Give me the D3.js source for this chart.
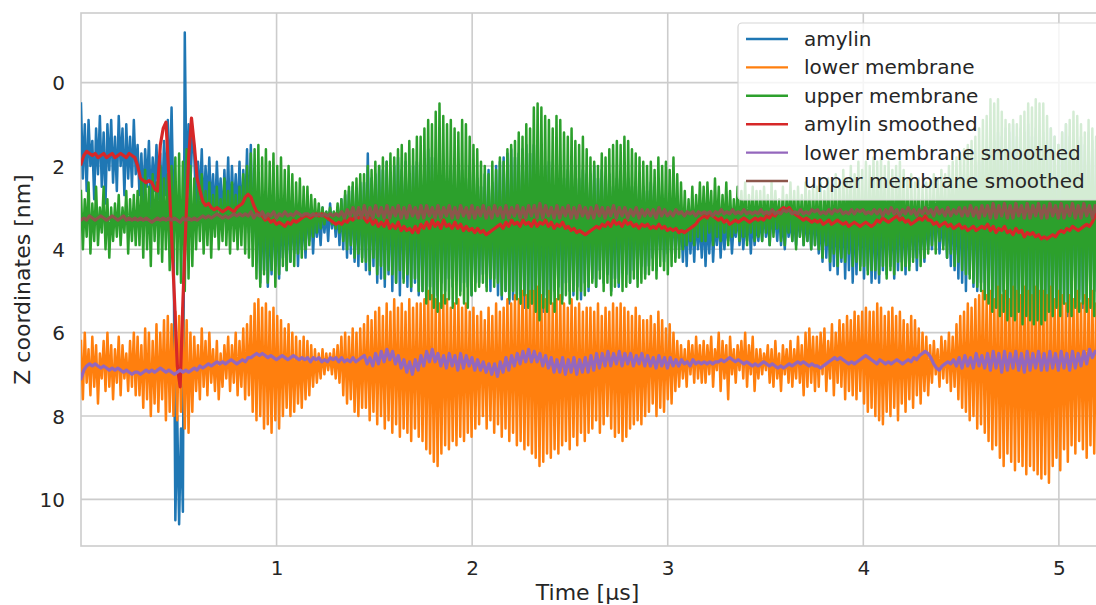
<!DOCTYPE html>
<html>
<head>
<meta charset="utf-8">
<script src="https://cdn.jsdelivr.net/npm/d3@7"></script>
<style>
  body { margin: 0; background: #fff; }
  svg { display: block; font-family: 'DejaVu Sans', sans-serif; }
</style>
</head>
<body>
<div id="chart-area"></div>
<script>
// chart data (z in nm, time in µs)
const seriesNames = ['amylin', 'lower membrane', 'upper membrane',
    'amylin smoothed', 'lower membrane smoothed', 'upper membrane smoothed'];
const seriesColors = ['#1f77b4', '#ff7f0e', '#2ca02c', '#d62728', '#9467bd', '#8c564b'];
const timeRange = [0, 5.2];
const xTicks = [1, 2, 3, 4, 5];
const yTicks = [0, 2, 4, 6, 8, 10];

// raw traces: evenly spaced samples over the time range
const amylin = [
    0.5, 2.3, 1.0, 2.6, 0.9, 2.0, 1.4, 2.8, 1.1, 2.2, 0.8, 2.5, 1.2, 2.9, 1.0, 2.1, 0.9, 2.4, 1.3, 2.6, 0.8, 2.0, 1.1, 2.7, 1.0, 2.3, 1.3, 2.5, 0.9, 2.2,
    1.5, 2.7, 1.7, 2.9, 1.6, 2.5, 1.4, 3.0, 1.8, 2.6, 1.5, 2.8, 1.7, 3.0, 1.4, 2.7, 0.9, 2.6, 0.6, 3.0, 10.5, 8.0, 10.6, 8.3, 10.3, -1.2, 2.9, 1.0, 2.4, 1.3,
    1.7, 3.0, 1.9, 2.8, 1.6, 3.2, 2.0, 2.9, 1.8, 3.1, 2.2, 3.3, 1.9, 3.0, 2.3, 3.4, 2.1, 3.2, 1.8, 3.5, 2.0, 3.1, 2.2, 3.3, 1.9, 3.4, 2.1, 3.2, 1.6, 3.6,
    1.5, 3.8, 2.2, 4.3, 2.6, 4.8, 2.9, 4.5, 2.7, 4.9, 3.0, 4.6, 2.8, 4.4, 3.1, 4.7, 2.9, 4.2, 3.0, 4.5, 2.8, 4.3, 3.1, 4.1, 2.9, 4.4, 3.0, 4.0, 3.2, 4.2,
    2.9, 3.8, 3.0, 4.1, 3.1, 3.7, 3.2, 3.9, 3.0, 3.6, 3.1, 3.8, 2.9, 3.5, 3.1, 3.7, 3.0, 3.9, 2.8, 4.0, 2.7, 4.2, 2.6, 4.1, 2.5, 4.3, 2.6, 4.4, 2.4, 4.2,
    2.4, 4.5, 1.7, 4.6, 2.3, 4.4, 2.2, 4.8, 2.0, 4.7, 2.1, 4.9, 1.9, 4.6, 2.2, 5.0, 2.0, 4.8, 1.8, 5.1, 2.1, 4.7, 1.9, 4.9, 2.2, 5.0, 2.0, 4.8, 1.9, 5.1,
    2.0, 5.0, 1.9, 5.2, 1.6, 4.9, 1.8, 5.3, 2.1, 5.1, 1.9, 4.8, 2.2, 5.0, 2.3, 4.7, 2.0, 4.9, 2.4, 4.6, 2.2, 5.0, 2.1, 4.8, 2.3, 4.9, 2.0, 5.1, 2.2, 4.8,
    2.3, 4.8, 2.5, 4.6, 2.2, 4.9, 2.1, 5.0, 2.4, 4.7, 2.0, 5.1, 1.9, 5.2, 1.8, 5.0, 1.7, 5.3, 1.6, 5.2, 1.8, 5.1, 1.7, 5.3, 1.6, 5.4, 1.5, 5.2, 1.7, 5.3,
    1.5, 5.4, 1.7, 5.2, 1.8, 5.5, 2.0, 5.1, 1.9, 5.3, 2.1, 5.0, 2.2, 4.9, 2.0, 5.2, 2.3, 4.8, 2.1, 5.0, 2.2, 5.1, 2.0, 4.9, 2.3, 5.2, 2.1, 4.8, 2.2, 5.0,
    2.2, 4.7, 2.0, 4.9, 2.3, 4.5, 2.1, 4.8, 2.4, 4.6, 2.2, 5.0, 2.5, 4.7, 2.3, 4.9, 2.6, 4.4, 2.4, 4.6, 2.3, 4.8, 2.5, 4.5, 2.4, 4.7, 2.6, 4.4, 2.5, 4.6,
    2.6, 4.4, 2.4, 4.2, 2.5, 4.5, 2.8, 4.0, 2.7, 4.3, 3.0, 4.1, 2.9, 3.9, 3.1, 4.2, 3.0, 4.0, 3.2, 4.3, 3.1, 4.4, 3.0, 4.1, 3.2, 4.3, 3.1, 4.0, 3.3, 4.2,
    3.1, 4.4, 3.2, 4.1, 3.0, 4.3, 3.3, 3.9, 3.1, 4.2, 3.2, 4.0, 3.4, 3.8, 3.2, 4.1, 3.3, 3.7, 3.1, 3.9, 3.2, 4.0, 3.3, 3.8, 3.1, 4.1, 3.2, 3.9, 3.3, 3.8,
    3.2, 3.8, 3.0, 3.7, 3.3, 3.9, 3.1, 3.6, 3.2, 3.8, 3.0, 3.9, 3.2, 4.0, 3.1, 3.7, 3.3, 3.8, 3.2, 3.9, 3.1, 3.7, 3.0, 3.9, 3.2, 3.8, 3.1, 4.0, 3.0, 3.9,
    3.0, 4.1, 3.2, 4.3, 2.9, 4.2, 3.1, 4.5, 3.0, 4.4, 2.8, 4.6, 3.0, 4.3, 2.9, 4.7, 2.7, 4.5, 2.8, 4.8, 2.9, 4.6, 2.7, 4.4, 2.8, 4.7, 2.6, 4.5, 2.7, 4.8,
    2.7, 4.7, 2.9, 4.8, 2.6, 4.5, 2.8, 4.6, 2.7, 4.4, 3.0, 4.7, 2.8, 4.5, 2.9, 4.3, 3.0, 4.6, 2.8, 4.4, 2.9, 4.2, 3.0, 4.5, 2.9, 4.1, 3.1, 4.3, 3.0, 4.0,
    3.0, 4.0, 3.1, 3.8, 2.9, 4.1, 3.2, 3.9, 3.0, 4.2, 2.8, 4.4, 2.7, 4.5, 2.6, 4.7, 2.4, 4.8, 2.2, 5.0, 2.3, 4.6, 2.1, 4.9, 2.0, 5.0, 1.9, 4.8, 1.8, 5.1,
    2.0, 5.1, 1.6, 5.3, 1.4, 5.2, 1.2, 5.4, 1.3, 5.0, 1.1, 5.3, 1.2, 5.5, 1.0, 5.2, 1.3, 5.4, 1.1, 5.3, 1.2, 5.5, 1.0, 5.4, 1.3, 5.2, 1.1, 5.6, 1.2, 5.3,
    1.2, 5.5, 1.4, 5.3, 1.1, 5.6, 1.3, 5.2, 1.5, 5.4, 1.2, 5.3, 1.0, 5.6, 1.3, 5.1, 1.6, 5.0, 1.4, 5.2, 1.3, 5.4, 1.5, 5.1, 1.2, 5.3, 1.4, 5.0, 1.6, 5.2
];

const lowerMembrane = [
    6.2, 7.6, 6.0, 7.2, 6.4, 7.5, 6.1, 7.3, 6.3, 7.7, 6.5, 7.1, 6.2, 7.4, 6.0, 7.3, 6.3, 7.6, 6.4, 7.2, 6.1, 7.5, 6.3, 7.1, 6.5, 7.4, 6.2, 7.3, 6.0, 7.5,
    6.1, 7.5, 6.3, 7.8, 5.9, 7.6, 6.0, 8.0, 6.2, 7.7, 5.8, 7.9, 6.0, 7.6, 5.7, 8.1, 5.6, 7.9, 5.8, 8.0, 5.5, 8.1, 5.6, 7.9, 5.4, 8.3, 5.7, 8.4, 6.0, 7.9,
    6.1, 7.4, 6.3, 7.6, 5.9, 7.3, 6.2, 7.5, 6.0, 7.2, 6.4, 7.4, 6.2, 7.6, 6.5, 7.3, 6.3, 7.1, 6.1, 7.4, 6.3, 7.2, 6.0, 7.5, 6.2, 7.3, 5.9, 7.6, 5.8, 7.5,
    5.6, 7.9, 5.3, 8.1, 5.2, 8.0, 5.4, 8.3, 5.3, 8.2, 5.5, 8.4, 5.4, 8.1, 5.6, 8.3, 5.7, 8.0, 5.9, 7.8, 5.8, 8.0, 6.0, 7.9, 6.1, 7.7, 6.2, 7.8, 6.1, 7.6,
    6.2, 7.5, 6.3, 7.3, 6.4, 7.2, 6.5, 7.1, 6.4, 7.0, 6.5, 6.9, 6.5, 7.0, 6.4, 7.1, 6.3, 7.2, 6.1, 7.5, 6.0, 7.7, 6.1, 7.6, 5.9, 7.9, 6.0, 8.0, 5.9, 7.8,
    5.8, 7.8, 5.6, 8.1, 5.7, 7.9, 5.5, 8.2, 5.4, 8.0, 5.6, 8.3, 5.3, 8.1, 5.5, 8.4, 5.2, 8.2, 5.4, 8.5, 5.3, 8.3, 5.5, 8.4, 5.2, 8.6, 5.4, 8.3, 5.3, 8.5,
    5.3, 8.6, 5.2, 8.8, 5.0, 8.9, 5.1, 9.1, 5.2, 9.2, 5.3, 8.9, 5.1, 8.7, 5.2, 8.8, 5.4, 8.6, 5.3, 8.7, 5.2, 8.5, 5.4, 8.6, 5.3, 8.4, 5.5, 8.5, 5.4, 8.3,
    5.6, 8.2, 5.5, 8.0, 5.7, 8.3, 5.4, 8.1, 5.6, 8.4, 5.3, 8.2, 5.5, 8.5, 5.4, 8.3, 5.2, 8.6, 5.3, 8.4, 5.1, 8.7, 5.2, 8.6, 5.0, 8.8, 5.1, 8.7, 5.0, 8.9,
    5.0, 9.0, 4.9, 9.2, 5.1, 9.1, 5.2, 8.9, 5.0, 9.0, 5.3, 8.8, 5.2, 8.9, 5.1, 8.7, 5.3, 8.6, 5.4, 8.8, 5.2, 8.5, 5.4, 8.7, 5.3, 8.4, 5.5, 8.6, 5.4, 8.4,
    5.4, 8.3, 5.5, 8.1, 5.3, 8.4, 5.6, 8.2, 5.4, 8.0, 5.5, 8.3, 5.3, 8.5, 5.4, 8.4, 5.3, 8.6, 5.4, 8.5, 5.5, 8.3, 5.6, 8.2, 5.4, 8.1, 5.6, 8.2, 5.7, 8.0,
    5.7, 7.9, 5.6, 7.7, 5.8, 8.0, 5.5, 7.8, 5.7, 7.9, 5.9, 7.6, 5.8, 7.7, 6.0, 7.4, 6.2, 7.3, 6.3, 7.1, 6.4, 7.3, 6.2, 7.0, 6.3, 7.2, 6.1, 7.1, 6.3, 7.2,
    6.2, 7.2, 6.3, 7.0, 6.1, 7.3, 6.4, 6.9, 6.0, 7.4, 6.2, 7.1, 6.3, 7.6, 6.1, 7.0, 6.4, 7.2, 6.3, 6.9, 6.2, 7.1, 6.0, 7.3, 6.3, 7.0, 6.1, 7.4, 6.4, 7.1,
    6.4, 7.0, 6.5, 6.9, 6.3, 7.2, 6.4, 7.3, 6.2, 7.1, 6.5, 7.4, 6.3, 7.0, 6.4, 7.2, 6.2, 7.3, 6.4, 7.1, 6.1, 7.2, 6.3, 7.5, 6.0, 7.3, 5.9, 7.2, 6.1, 7.4,
    6.1, 7.3, 6.0, 7.0, 5.9, 7.4, 6.2, 7.1, 5.8, 7.5, 6.0, 7.2, 5.7, 7.3, 5.8, 7.6, 5.6, 7.4, 5.7, 7.5, 5.5, 7.6, 5.6, 7.4, 5.5, 7.7, 5.4, 7.9, 5.5, 7.8,
    5.5, 8.0, 5.3, 8.1, 5.4, 8.2, 5.6, 7.9, 5.5, 8.0, 5.4, 7.8, 5.6, 8.1, 5.5, 7.7, 5.7, 7.9, 5.8, 7.6, 5.6, 7.8, 5.7, 7.5, 5.9, 7.7, 6.0, 7.4, 6.1, 7.5,
    6.3, 7.2, 6.2, 7.0, 6.4, 7.3, 6.1, 7.1, 6.2, 7.2, 6.0, 7.4, 6.1, 7.3, 5.8, 7.6, 5.6, 7.8, 5.5, 7.9, 5.3, 8.1, 5.4, 8.0, 5.2, 8.3, 5.1, 8.2, 5.0, 8.4,
    5.1, 8.6, 5.0, 8.8, 5.2, 8.7, 4.9, 9.0, 5.1, 9.2, 5.0, 8.9, 5.2, 9.1, 4.9, 9.3, 5.0, 9.1, 5.1, 9.2, 4.9, 9.4, 5.0, 9.2, 5.1, 9.3, 4.9, 9.4, 5.0, 9.5,
    5.0, 9.4, 5.1, 9.6, 4.9, 9.2, 5.2, 9.0, 5.0, 9.3, 5.1, 8.8, 5.3, 9.1, 5.1, 8.7, 5.2, 8.9, 5.0, 8.6, 5.3, 8.8, 5.1, 9.0, 5.2, 8.7, 5.0, 8.9, 5.3, 8.8
];

const upperMembrane = [
    2.6, 4.0, 2.8, 3.7, 2.4, 4.1, 2.9, 3.8, 2.5, 3.9, 3.0, 3.6, 2.5, 4.0, 2.8, 4.2, 3.0, 3.8, 2.9, 3.7, 2.7, 3.9, 3.0, 3.6, 2.6, 4.1, 2.8, 3.8, 2.7, 3.9,
    2.6, 3.9, 2.3, 4.2, 2.1, 4.0, 2.5, 4.4, 2.2, 3.8, 2.4, 4.1, 2.0, 4.3, 2.3, 4.0, 2.2, 4.5, 2.0, 4.3, 1.8, 4.6, 1.7, 4.8, 1.9, 5.0, 1.6, 4.7, 2.0, 4.4,
    2.3, 4.0, 2.5, 3.8, 2.2, 4.1, 2.6, 3.9, 2.4, 4.2, 2.7, 3.7, 2.5, 4.0, 2.8, 3.8, 2.3, 3.9, 2.6, 4.1, 2.4, 3.8, 2.7, 4.0, 2.5, 3.9, 2.2, 4.1, 2.0, 4.2,
    1.7, 4.4, 1.6, 4.7, 1.5, 4.9, 1.8, 4.6, 1.6, 4.8, 1.9, 4.5, 1.7, 4.9, 2.0, 4.6, 1.8, 4.4, 2.1, 4.5, 2.0, 4.3, 2.2, 4.4, 2.4, 4.1, 2.3, 4.2, 2.5, 4.0,
    2.5, 3.9, 2.7, 3.7, 2.8, 3.6, 2.9, 3.5, 3.0, 3.4, 3.1, 3.3, 3.0, 3.4, 3.1, 3.5, 2.9, 3.6, 2.8, 3.8, 2.6, 4.0, 2.5, 3.9, 2.4, 4.2, 2.3, 4.1, 2.2, 4.3,
    2.2, 4.3, 2.0, 4.5, 2.1, 4.2, 1.9, 4.6, 2.0, 4.4, 1.8, 4.7, 1.9, 4.5, 1.7, 4.6, 1.8, 4.8, 1.6, 4.5, 1.5, 4.8, 1.7, 4.6, 1.4, 4.9, 1.6, 4.7, 1.3, 5.0,
    1.3, 5.0, 1.1, 5.3, 0.9, 5.2, 1.0, 5.4, 0.7, 5.5, 0.5, 5.4, 0.8, 5.3, 1.0, 5.2, 0.9, 5.4, 1.1, 5.3, 1.2, 5.1, 0.9, 5.3, 1.0, 5.4, 1.3, 5.1, 1.5, 5.0,
    1.6, 4.9, 1.9, 4.8, 2.0, 5.0, 2.2, 4.7, 1.9, 4.9, 2.1, 4.8, 1.8, 5.1, 1.9, 5.0, 1.6, 5.2, 1.5, 5.0, 1.4, 5.2, 1.2, 5.3, 1.3, 5.1, 1.0, 5.4, 1.1, 5.3,
    0.6, 5.5, 0.5, 5.7, 0.6, 5.4, 0.8, 5.5, 0.9, 5.3, 1.1, 5.5, 0.8, 5.2, 0.9, 5.3, 1.2, 5.1, 1.3, 5.3, 1.1, 5.0, 1.4, 5.2, 1.5, 5.0, 1.3, 5.1, 1.6, 4.9,
    1.8, 4.8, 1.9, 4.9, 2.0, 4.7, 1.7, 5.0, 1.8, 4.8, 1.6, 5.1, 1.5, 4.9, 1.4, 4.8, 1.5, 5.0, 1.3, 4.9, 1.4, 4.8, 1.6, 4.7, 1.7, 4.9, 1.8, 4.8, 1.9, 4.7,
    2.0, 4.6, 1.9, 4.5, 2.1, 4.7, 1.8, 4.4, 2.0, 4.5, 1.9, 4.6, 2.1, 4.4, 1.8, 4.3, 2.2, 4.2, 2.4, 4.0, 2.6, 3.9, 2.8, 3.8, 2.5, 3.9, 2.7, 3.7, 2.4, 3.8,
    2.5, 3.8, 2.4, 3.6, 2.6, 3.9, 2.3, 3.7, 2.5, 3.8, 2.7, 3.6, 2.4, 3.9, 2.6, 3.7, 2.8, 3.6, 2.5, 3.8, 2.6, 3.7, 2.4, 3.9, 2.7, 3.6, 2.5, 3.8, 2.6, 3.7,
    2.6, 3.8, 2.5, 3.6, 2.7, 3.9, 2.4, 3.7, 2.6, 3.5, 2.8, 3.8, 2.5, 3.9, 2.7, 3.6, 2.4, 3.8, 2.6, 4.0, 2.5, 3.7, 2.7, 3.9, 2.4, 3.8, 2.6, 4.0, 2.5, 3.9,
    2.5, 4.0, 2.4, 4.2, 2.6, 3.9, 2.3, 4.3, 2.5, 4.1, 2.2, 4.4, 2.4, 4.2, 2.1, 4.3, 2.3, 4.1, 2.0, 4.4, 2.2, 4.3, 1.9, 4.5, 2.1, 4.4, 1.9, 4.6, 2.0, 4.5,
    1.8, 4.5, 1.9, 4.6, 1.8, 4.4, 2.0, 4.7, 1.9, 4.5, 2.1, 4.6, 2.0, 4.3, 1.9, 4.5, 2.1, 4.4, 2.3, 4.5, 2.2, 4.3, 2.4, 4.2, 2.3, 4.4, 2.5, 4.2, 2.4, 4.1,
    2.4, 3.9, 2.2, 4.1, 2.3, 3.8, 2.1, 4.0, 2.2, 4.2, 2.0, 4.1, 1.9, 4.4, 1.8, 4.3, 1.7, 4.5, 1.6, 4.6, 1.5, 4.7, 1.4, 4.8, 1.3, 4.9, 1.1, 5.0, 0.9, 5.2,
    0.8, 5.3, 0.4, 5.5, 0.5, 5.4, 0.4, 5.6, 0.7, 5.5, 0.9, 5.7, 1.0, 5.6, 0.9, 5.7, 1.0, 5.5, 0.8, 5.8, 0.7, 5.6, 0.5, 5.7, 0.6, 5.8, 0.4, 5.7, 0.5, 5.8,
    0.5, 5.7, 0.8, 5.5, 1.1, 5.6, 1.3, 5.4, 1.5, 5.6, 1.2, 5.3, 1.0, 5.5, 0.9, 5.6, 0.7, 5.4, 0.8, 5.5, 1.0, 5.3, 1.2, 5.5, 0.9, 5.4, 1.1, 5.6, 1.3, 5.3
];

// smoothed traces: evenly spaced samples over the time range
const amylinSmoothed = [
    1.95, 1.75, 1.65, 1.7, 1.75, 1.7, 1.8, 1.75, 1.7, 1.8, 1.75, 1.7, 1.8, 1.75, 1.7, 1.75, 1.8, 1.7, 1.75, 1.8,
    2.0, 2.3, 2.35, 2.4, 2.35, 2.4, 2.55, 2.6, 1.5, 1.1, 0.95, 2.2, 3.7, 5.2, 6.8, 7.3, 5.2, 3.4, 1.8, 0.85,
    1.5, 2.3, 2.6, 2.85, 2.95, 2.9, 3.0, 3.05, 3.0, 3.05, 3.1, 3.05, 3.0, 3.05, 3.1, 3.0, 2.95, 2.9, 2.75, 2.68,
    2.75, 2.95, 3.1, 3.15, 3.2, 3.3, 3.25, 3.35, 3.3, 3.4, 3.35, 3.4, 3.45, 3.35, 3.4, 3.3, 3.35, 3.3, 3.25, 3.2,
    3.2, 3.25, 3.2, 3.15, 3.2, 3.15, 3.2, 3.25, 3.3, 3.35, 3.4, 3.35, 3.4, 3.3, 3.35, 3.25, 3.3, 3.2, 3.25, 3.2,
    3.25, 3.35, 3.25, 3.4, 3.3, 3.45, 3.35, 3.45, 3.3, 3.5, 3.4, 3.5, 3.35, 3.55, 3.45, 3.55, 3.5, 3.6, 3.45, 3.6,
    3.4, 3.5, 3.35, 3.5, 3.3, 3.45, 3.35, 3.5, 3.3, 3.45, 3.4, 3.5, 3.35, 3.5, 3.4, 3.55, 3.45, 3.55, 3.5, 3.6,
    3.5, 3.6, 3.55, 3.65, 3.6, 3.55, 3.5, 3.45, 3.4, 3.5, 3.35, 3.45, 3.3, 3.4, 3.35, 3.45, 3.3, 3.4, 3.35, 3.45,
    3.3, 3.45, 3.35, 3.4, 3.3, 3.45, 3.35, 3.5, 3.4, 3.45, 3.35, 3.5, 3.45, 3.55, 3.5, 3.6, 3.55, 3.6, 3.65, 3.6,
    3.55, 3.5, 3.45, 3.5, 3.4, 3.45, 3.35, 3.45, 3.3, 3.4, 3.35, 3.45, 3.3, 3.4, 3.35, 3.45, 3.4, 3.5, 3.4, 3.45,
    3.4, 3.5, 3.45, 3.5, 3.4, 3.5, 3.45, 3.55, 3.5, 3.55, 3.5, 3.6, 3.55, 3.6, 3.55, 3.5, 3.45, 3.4, 3.3, 3.25,
    3.2, 3.25, 3.15, 3.2, 3.25, 3.3, 3.25, 3.35, 3.3, 3.4, 3.35, 3.3, 3.35, 3.3, 3.25, 3.3, 3.35, 3.3, 3.25, 3.3,
    3.25, 3.3, 3.2, 3.25, 3.15, 3.2, 3.1, 3.05, 3.0, 3.05, 3.0, 3.1, 3.15, 3.2, 3.25, 3.3, 3.25, 3.3, 3.35, 3.3,
    3.35, 3.3, 3.4, 3.35, 3.3, 3.4, 3.35, 3.3, 3.35, 3.4, 3.35, 3.45, 3.4, 3.35, 3.4, 3.45, 3.4, 3.35, 3.4, 3.45,
    3.4, 3.3, 3.35, 3.25, 3.3, 3.35, 3.3, 3.25, 3.2, 3.3, 3.25, 3.35, 3.3, 3.4, 3.35, 3.3, 3.25, 3.3, 3.2, 3.3,
    3.3, 3.4, 3.35, 3.45, 3.4, 3.35, 3.45, 3.4, 3.5, 3.45, 3.4, 3.5, 3.45, 3.55, 3.5, 3.45, 3.55, 3.5, 3.45, 3.5,
    3.4, 3.55, 3.45, 3.6, 3.5, 3.55, 3.45, 3.6, 3.55, 3.65, 3.5, 3.6, 3.55, 3.7, 3.6, 3.65, 3.6, 3.7, 3.65, 3.75,
    3.7, 3.75, 3.7, 3.65, 3.7, 3.6, 3.55, 3.6, 3.5, 3.55, 3.45, 3.5, 3.55, 3.5, 3.45, 3.4, 3.45, 3.35, 3.2, 3.05
];

const lowerSmoothed = [
    7.1, 6.9, 6.8, 6.75, 6.8, 6.75, 6.8, 6.85, 6.8, 6.85, 6.9, 6.85, 6.9, 6.85, 6.9, 6.95, 6.9, 6.95, 7.0, 6.95,
    6.95, 7.0, 6.95, 6.9, 6.95, 6.9, 6.95, 6.9, 6.85, 6.9, 6.95, 6.9, 6.95, 7.0, 6.95, 6.9, 6.95, 6.9, 6.95, 6.9,
    6.85, 6.9, 6.8, 6.85, 6.8, 6.75, 6.8, 6.75, 6.7, 6.75, 6.7, 6.75, 6.7, 6.65, 6.7, 6.75, 6.7, 6.65, 6.7, 6.6,
    6.6, 6.55, 6.5, 6.55, 6.5, 6.55, 6.6, 6.55, 6.6, 6.65, 6.6, 6.55, 6.6, 6.65, 6.6, 6.55, 6.6, 6.65, 6.6, 6.65,
    6.6, 6.7, 6.6, 6.65, 6.6, 6.7, 6.65, 6.7, 6.6, 6.65, 6.6, 6.7, 6.6, 6.7, 6.65, 6.7, 6.6, 6.7, 6.65, 6.6,
    6.55, 6.75, 6.6, 6.8, 6.5, 6.75, 6.45, 6.7, 6.4, 6.65, 6.45, 6.75, 6.55, 6.85, 6.65, 6.95, 6.7, 7.0, 6.65, 6.9,
    6.55, 6.8, 6.45, 6.7, 6.4, 6.7, 6.5, 6.8, 6.55, 6.85, 6.5, 6.8, 6.55, 6.9, 6.5, 6.85, 6.55, 6.8, 6.6, 6.9,
    6.65, 6.9, 6.7, 6.95, 6.75, 7.0, 6.75, 7.05, 6.7, 6.95, 6.6, 6.9, 6.55, 6.8, 6.5, 6.75, 6.45, 6.7, 6.4, 6.7,
    6.45, 6.7, 6.5, 6.8, 6.55, 6.85, 6.6, 6.95, 6.65, 6.95, 6.6, 7.0, 6.65, 6.95, 6.6, 7.0, 6.65, 6.95, 6.6, 6.95,
    6.55, 6.9, 6.5, 6.85, 6.5, 6.8, 6.45, 6.8, 6.5, 6.75, 6.45, 6.8, 6.5, 6.75, 6.5, 6.8, 6.55, 6.75, 6.5, 6.8,
    6.55, 6.8, 6.6, 6.85, 6.55, 6.8, 6.6, 6.85, 6.6, 6.8, 6.65, 6.8, 6.65, 6.75, 6.7, 6.8, 6.65, 6.75, 6.7, 6.75,
    6.7, 6.75, 6.7, 6.75, 6.7, 6.7, 6.65, 6.7, 6.65, 6.6, 6.65, 6.7, 6.65, 6.7, 6.75, 6.7, 6.75, 6.8, 6.75, 6.8,
    6.75, 6.7, 6.75, 6.8, 6.75, 6.8, 6.85, 6.8, 6.85, 6.8, 6.75, 6.8, 6.75, 6.7, 6.75, 6.7, 6.75, 6.8, 6.75, 6.8,
    6.8, 6.85, 6.8, 6.75, 6.7, 6.65, 6.6, 6.65, 6.6, 6.65, 6.7, 6.75, 6.7, 6.75, 6.7, 6.65, 6.6, 6.55, 6.6, 6.65,
    6.7, 6.75, 6.65, 6.7, 6.75, 6.7, 6.75, 6.7, 6.65, 6.7, 6.75, 6.7, 6.65, 6.7, 6.6, 6.65, 6.55, 6.5, 6.45, 6.5,
    6.6, 6.75, 6.85, 6.9, 6.8, 6.75, 6.7, 6.75, 6.65, 6.8, 6.6, 6.85, 6.55, 6.8, 6.6, 6.85, 6.5, 6.8, 6.55, 6.85,
    6.5, 6.9, 6.45, 6.85, 6.5, 6.95, 6.45, 6.9, 6.5, 6.85, 6.45, 6.9, 6.5, 6.95, 6.45, 6.9, 6.5, 6.85, 6.45, 6.9,
    6.5, 6.9, 6.45, 6.85, 6.5, 6.9, 6.45, 6.85, 6.5, 6.9, 6.45, 6.85, 6.5, 6.8, 6.45, 6.75, 6.4, 6.6, 6.45, 6.45
];

const upperSmoothed = [
    3.3, 3.25, 3.3, 3.2, 3.25, 3.3, 3.25, 3.2, 3.25, 3.3, 3.25, 3.2, 3.25, 3.3, 3.25, 3.2, 3.3, 3.25, 3.3, 3.25,
    3.3, 3.25, 3.3, 3.25, 3.3, 3.35, 3.3, 3.25, 3.3, 3.25, 3.3, 3.25, 3.3, 3.25, 3.3, 3.35, 3.25, 3.3, 3.25, 3.3,
    3.25, 3.3, 3.25, 3.2, 3.25, 3.2, 3.25, 3.2, 3.15, 3.2, 3.25, 3.2, 3.25, 3.2, 3.15, 3.2, 3.15, 3.2, 3.15, 3.2,
    3.1, 3.25, 3.15, 3.2, 3.1, 3.25, 3.15, 3.2, 3.1, 3.25, 3.15, 3.2, 3.1, 3.2, 3.15, 3.2, 3.1, 3.15, 3.2, 3.15,
    3.15, 3.2, 3.15, 3.2, 3.15, 3.2, 3.15, 3.2, 3.15, 3.2, 3.15, 3.2, 3.1, 3.25, 3.05, 3.2, 3.0, 3.25, 3.0, 3.25,
    2.95, 3.25, 3.0, 3.25, 2.95, 3.2, 3.0, 3.25, 2.95, 3.25, 3.0, 3.2, 2.95, 3.25, 3.0, 3.25, 2.95, 3.2, 3.0, 3.25,
    2.95, 3.25, 2.95, 3.2, 3.0, 3.25, 2.95, 3.25, 3.0, 3.2, 2.95, 3.25, 3.0, 3.25, 2.95, 3.2, 3.0, 3.25, 2.95, 3.25,
    3.0, 3.2, 2.95, 3.25, 3.0, 3.25, 2.95, 3.2, 3.0, 3.25, 2.95, 3.25, 3.0, 3.2, 2.95, 3.25, 3.0, 3.25, 2.95, 3.2,
    2.95, 3.25, 2.9, 3.25, 2.95, 3.2, 3.0, 3.25, 2.95, 3.25, 3.0, 3.2, 2.95, 3.25, 3.0, 3.25, 2.95, 3.2, 3.0, 3.25,
    3.0, 3.25, 2.95, 3.2, 3.0, 3.25, 3.0, 3.2, 2.95, 3.25, 3.0, 3.2, 3.0, 3.25, 3.05, 3.2, 3.0, 3.25, 3.05, 3.2,
    3.05, 3.2, 3.05, 3.25, 3.0, 3.2, 3.05, 3.2, 3.1, 3.2, 3.05, 3.15, 3.1, 3.2, 3.1, 3.15, 3.1, 3.2, 3.1, 3.15,
    3.1, 3.15, 3.1, 3.2, 3.1, 3.15, 3.05, 3.15, 3.1, 3.15, 3.05, 3.15, 3.1, 3.15, 3.05, 3.15, 3.1, 3.15, 3.1, 3.15,
    3.05, 3.15, 3.1, 3.15, 3.05, 3.15, 3.1, 3.15, 3.05, 3.1, 3.05, 3.15, 3.1, 3.15, 3.05, 3.15, 3.1, 3.15, 3.05, 3.1,
    3.05, 3.15, 3.1, 3.15, 3.05, 3.15, 3.05, 3.1, 3.05, 3.15, 3.1, 3.15, 3.05, 3.15, 3.05, 3.1, 3.05, 3.15, 3.1, 3.15,
    3.05, 3.15, 3.05, 3.2, 3.05, 3.15, 3.0, 3.15, 3.05, 3.2, 3.05, 3.15, 3.0, 3.15, 3.05, 3.2, 3.05, 3.15, 3.0, 3.15,
    3.05, 3.2, 3.0, 3.15, 3.05, 3.2, 3.0, 3.2, 3.05, 3.15, 3.0, 3.2, 3.0, 3.2, 2.95, 3.2, 3.0, 3.25, 2.95, 3.2,
    2.95, 3.25, 2.9, 3.25, 2.95, 3.2, 2.9, 3.25, 2.95, 3.25, 2.9, 3.2, 2.95, 3.25, 2.9, 3.25, 2.95, 3.2, 2.9, 3.25,
    2.95, 3.25, 2.9, 3.2, 2.95, 3.25, 2.9, 3.25, 2.95, 3.2, 2.9, 3.25, 2.95, 3.25, 2.9, 3.2, 2.95, 3.25, 2.95, 3.2
];

// default sizes
const width = 1096;
const height = 605;
const plot = { left: 81, right: 1098, top: 13, bottom: 546 };
const textColor = '#262626';
const gridColor = '#cccccc';

const svg = d3.select('#chart-area').append('svg')
    .attr('width', width)
    .attr('height', height);

// x: time in µs, y: z coordinate, inverted (0 near the top)
const x = d3.scaleLinear().domain(timeRange).range([plot.left, plot.right]);
const y = d3.scaleLinear().domain([-1.67, 11.12]).range([plot.top, plot.bottom]);

// grid lines
const grid = svg.append('g').attr('class', 'grid');
grid.selectAll('line.vx')
    .data(xTicks)
    .enter().append('line')
    .attr('x1', d => x(d)).attr('x2', d => x(d))
    .attr('y1', plot.top).attr('y2', plot.bottom)
    .attr('stroke', gridColor).attr('stroke-width', 1.6);
grid.selectAll('line.hy')
    .data(yTicks)
    .enter().append('line')
    .attr('x1', plot.left).attr('x2', plot.right)
    .attr('y1', d => y(d)).attr('y2', d => y(d))
    .attr('stroke', gridColor).attr('stroke-width', 1.6);

// spines
svg.append('rect')
    .attr('x', plot.left).attr('y', plot.top)
    .attr('width', plot.right - plot.left).attr('height', plot.bottom - plot.top)
    .attr('fill', 'none')
    .attr('stroke', gridColor).attr('stroke-width', 1.6);

// axes, ticks hidden like seaborn whitegrid
const xAxisGroup = svg.append('g')
    .attr('transform', `translate(0, ${plot.bottom})`)
    .call(d3.axisBottom(x).tickValues(xTicks).tickSize(0).tickPadding(0).tickFormat(d3.format('d')));
xAxisGroup.select('.domain').remove();
xAxisGroup.selectAll('text')
    .attr('y', 29)
    .attr('dy', 0)
    .attr('font-size', '20px')
    .attr('font-family', 'DejaVu Sans')
    .attr('fill', textColor);

const yAxisGroup = svg.append('g')
    .attr('transform', `translate(${plot.left}, 0)`)
    .call(d3.axisLeft(y).tickValues(yTicks).tickSize(0).tickPadding(0).tickFormat(d3.format('d')));
yAxisGroup.select('.domain').remove();
yAxisGroup.selectAll('text')
    .attr('x', -16)
    .attr('dy', '0.36em')
    .attr('font-size', '20px')
    .attr('font-family', 'DejaVu Sans')
    .attr('fill', textColor);

// axis labels
svg.append('text')
    .attr('x', (plot.left + plot.right) / 2 - 2)
    .attr('y', 600)
    .attr('text-anchor', 'middle')
    .attr('font-size', '22px')
    .attr('fill', textColor)
    .text('Time [µs]');

svg.append('text')
    .attr('transform', `translate(30, ${(plot.top + plot.bottom) / 2}) rotate(-90)`)
    .attr('text-anchor', 'middle')
    .attr('font-size', '22px')
    .attr('fill', textColor)
    .text('Z coordinates [nm]');

// clip the traces to the axes area
svg.append('clipPath').attr('id', 'plot-clip')
    .append('rect')
    .attr('x', plot.left).attr('y', plot.top)
    .attr('width', plot.right - plot.left).attr('height', plot.bottom - plot.top);

const lines = svg.append('g').attr('clip-path', 'url(#plot-clip)');

const allSeries = [amylin, lowerMembrane, upperMembrane, amylinSmoothed, lowerSmoothed, upperSmoothed];
allSeries.forEach((values, k) => {
    // samples are evenly spread over the time range
    const t = d3.scaleLinear().domain([0, values.length - 1]).range(timeRange);
    const line = d3.line()
        .x((d, i) => x(t(i)))
        .y(d => y(d));
    lines.append('path')
        .datum(values)
        .attr('d', line)
        .attr('fill', 'none')
        .attr('stroke', seriesColors[k])
        .attr('stroke-width', k < 3 ? 2.5 : 3.2)
        .attr('stroke-linejoin', 'round')
        .attr('stroke-linecap', 'square');
});

// legend, upper right, semi transparent white box
const legend = svg.append('g').attr('class', 'legend');
legend.append('rect')
    .attr('x', 738).attr('y', 23)
    .attr('width', 380).attr('height', 177)
    .attr('rx', 4)
    .attr('fill', '#ffffff').attr('fill-opacity', 0.8)
    .attr('stroke', '#d5d5d5').attr('stroke-width', 1.2);

const rows = legend.selectAll('g.row')
    .data(seriesNames)
    .enter().append('g')
    .attr('transform', (d, i) => `translate(0, ${39 + i * 28.4})`);
rows.append('line')
    .attr('x1', 746).attr('x2', 788)
    .attr('y1', 0).attr('y2', 0)
    .attr('stroke', (d, i) => seriesColors[i])
    .attr('stroke-width', 2.4);
rows.append('text')
    .attr('x', 804)
    .attr('dy', '0.35em')
    .attr('font-size', '20px')
    .attr('fill', textColor)
    .text(d => d);
</script>
</body>
</html>
